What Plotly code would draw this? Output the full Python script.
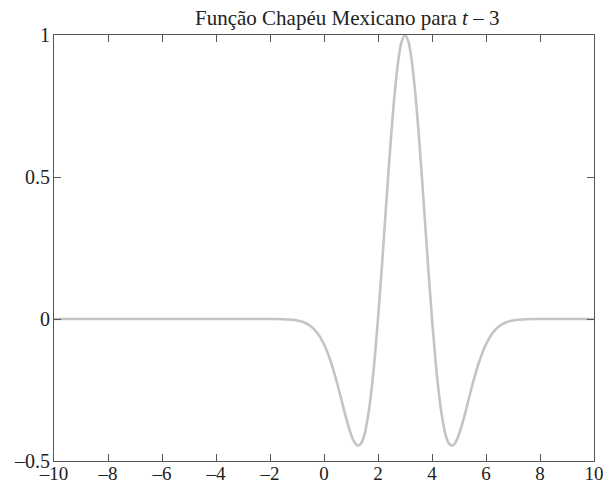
import plotly.graph_objects as go

# Sample points of the shifted Mexican hat wavelet psi(t - 3)
t_vals = [-10, -2, -1.5, -1, -0.75, -0.5, -0.25, 0, 0.25,
          0.5, 0.625, 0.75, 0.875, 1, 1.125, 1.25, 1.375, 1.5, 1.625, 1.75,
          1.875, 2, 2.125, 2.25, 2.375, 2.5, 2.625, 2.75, 2.875, 3,
          3.125, 3.25, 3.375, 3.5, 3.625, 3.75, 3.875, 4, 4.125, 4.25,
          4.375, 4.5, 4.625, 4.75, 4.875, 5, 5.125, 5.25, 5.375, 5.5,
          5.75, 6, 6.25, 6.5, 6.75, 7, 7.5, 8, 10]
psi_vals = [0, -0.0001, -0.0008, -0.005, -0.0116, -0.0246, -0.0486, -0.0889, -0.1496,
            -0.2307, -0.2764, -0.3233, -0.3677, -0.406, -0.4338, -0.4461, -0.4381,
            -0.4059, -0.3461, -0.2575,
            -0.1411, 0, 0.1598, 0.3302, 0.5013, 0.6619, 0.801, 0.9087, 0.9767, 1,
            0.9767, 0.9087, 0.801, 0.6619, 0.5013, 0.3302, 0.1598, 0, -0.1411,
            -0.2575,
            -0.3461, -0.4059, -0.4381, -0.4461, -0.4338, -0.406, -0.3677, -0.3233,
            -0.2764, -0.2307,
            -0.1496, -0.0889, -0.0486, -0.0246, -0.0116, -0.005, -0.0008, -0.0001, 0]

x_ticks = [-10, -8, -6, -4, -2, 0, 2, 4, 6, 8, 10]
x_tick_text = ["–10", "–8", "–6", "–4", "–2", "0", "2", "4", "6", "8", "10"]
y_ticks = [-0.5, 0, 0.5, 1]
y_tick_text = ["–0.5", "0", "0.5", "1"]

title_text = "Função Chapéu Mexicano para <i>t</i> – 3"

FONT = "Liberation Serif"
AXIS_COLOR = "#555555"
TEXT_COLOR = "#222222"

fig = go.Figure()
fig.add_trace(go.Scatter(
    x=t_vals, y=psi_vals, mode="lines",
    line=dict(color="#c4c4c4", width=2.6, shape="spline", smoothing=1.0),
    hoverinfo="skip", showlegend=False,
))

axis_common = dict(
    showline=True, linecolor=AXIS_COLOR, linewidth=1, mirror="ticks",
    ticks="inside", ticklen=7, tickcolor=AXIS_COLOR, tickwidth=1,
    showgrid=False, zeroline=False, automargin=False,
    ticklabeloverflow="allow",
)

fig.update_xaxes(range=[-10, 10], tickmode="array", tickvals=x_ticks,
                 ticktext=x_tick_text, ticklabelstandoff=-5,
                 tickfont=dict(family=FONT, size=19, color=TEXT_COLOR),
                 **axis_common)
fig.update_yaxes(range=[-0.5, 1], tickmode="array", tickvals=y_ticks,
                 ticktext=y_tick_text, ticklabelstandoff=-1,
                 tickfont=dict(family=FONT, size=20, color=TEXT_COLOR),
                 **axis_common)

fig.add_annotation(
    text=title_text, xref="paper", yref="paper",
    x=0.5426, y=1.0, yshift=3, xanchor="center", yanchor="bottom",
    showarrow=False, font=dict(family=FONT, size=21, color=TEXT_COLOR),
)

fig.update_layout(
    width=603, height=484,
    margin=dict(l=54, r=9, t=35, b=23),
    paper_bgcolor="white", plot_bgcolor="white",
)

fig.write_html("out.html")
